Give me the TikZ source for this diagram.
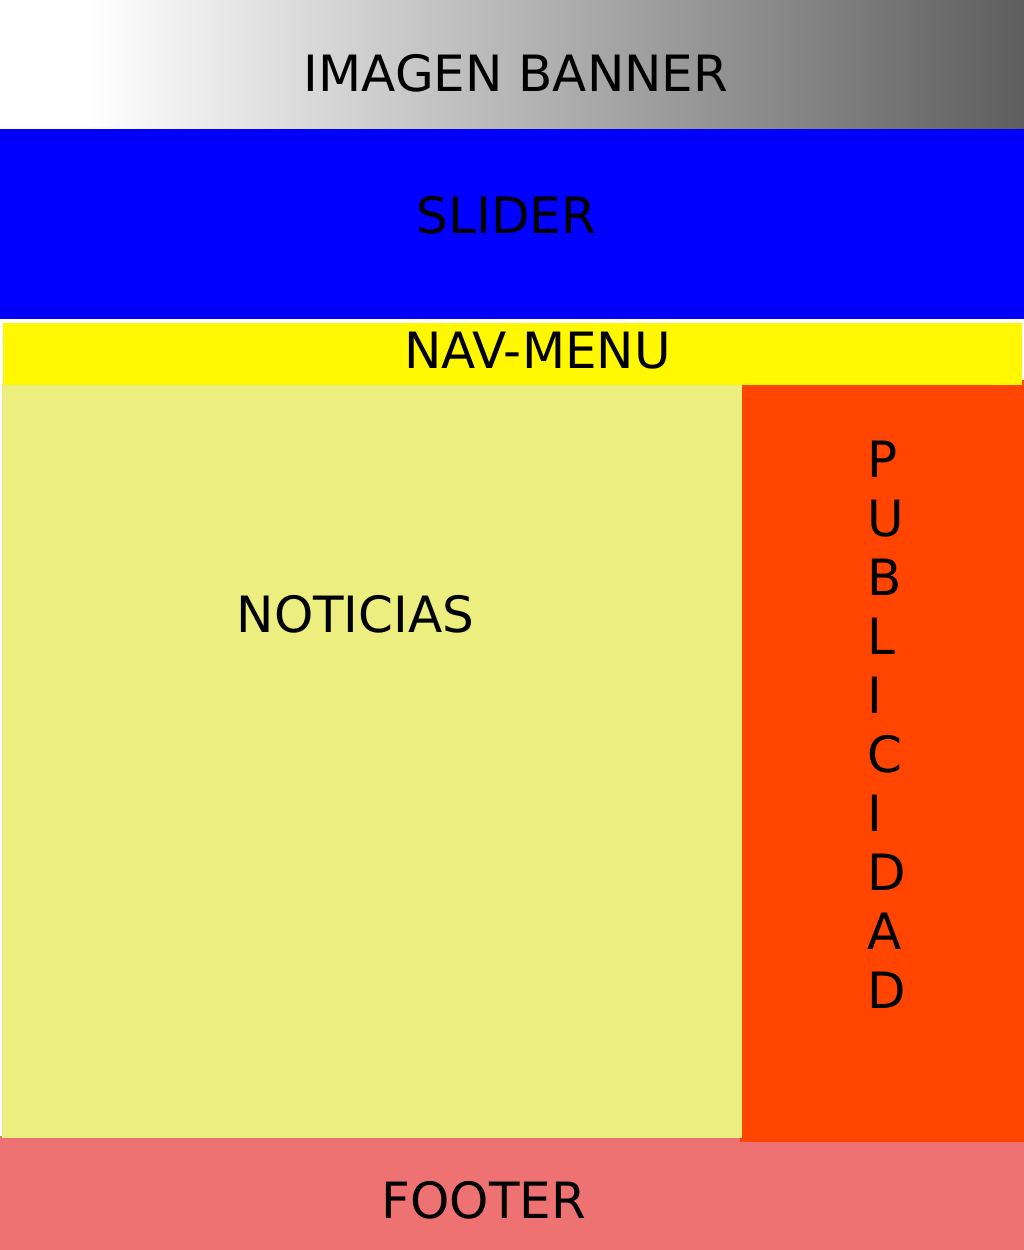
\documentclass[tikz,border=0pt]{standalone}
\usepackage{fontspec}
\setmainfont{DejaVu Sans}
\definecolor{sliderblue}{HTML}{0000FF}
\definecolor{navyellow}{HTML}{FFF800}
\definecolor{newsyellow}{HTML}{EDEE80}
\definecolor{adorange}{HTML}{FF4500}
\definecolor{footred}{HTML}{EE7272}
\definecolor{bannergray}{HTML}{5E5E5E}
\begin{document}
\begin{tikzpicture}[x=1pt,y=-1pt,
  lbl/.style={inner sep=0pt, anchor=base, text=black,
    font={\fontsize{50}{58.9}\selectfont}}]
\useasboundingbox (0,0) rectangle (1024,1250);
\fill[white] (0,0) rectangle (1024,1250);
% blocks (back to front)
\fill[footred] (0,1136) rectangle (1024,1250);
\fill[adorange] (740,380) rectangle (1024,1142);
\fill[newsyellow] (2,384) rectangle (742,1138);
\fill[navyellow] (3,323) rectangle (1022,384.5);
\fill[sliderblue] (0,128.5) rectangle (1024,319);
\fill[white] (0,0) rectangle (88,128);
\shade[left color=white, right color=bannergray] (88,0) rectangle (1024,128);
% labels
\node[lbl] (banner) at (516,91) {IMAGEN BANNER};
\node[lbl] (slider) at (506.5,233) {SLIDER};
\node[lbl] (nav) at (537.5,368) {NAV-MENU};
\node[lbl] (news) at (355.5,632) {NOTICIAS};
\node[lbl, anchor=base west, align=left] (ads) at (867.3,1008)
  {P\\U\\B\\L\\I\\C\\I\\D\\A\\D};
\node[lbl] (footer) at (484,1218) {FOOTER};
\end{tikzpicture}
\end{document}
